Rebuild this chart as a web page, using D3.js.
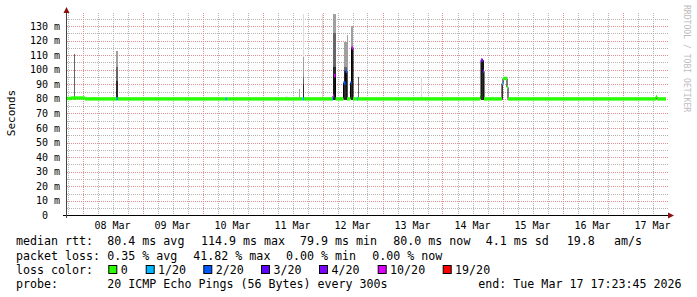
<!DOCTYPE html>
<html lang="en">
<head>
<meta charset="utf-8">
<title>Smokeping latency, 10 days</title>
<script src="https://d3js.org/d3.v7.min.js"></script>
<style>
    body { margin: 0; background: #fff; }
    svg { display: block; }
    text { font-family: "DejaVu Sans Mono", monospace; fill: #000; }
    .minor { stroke: #b4b4b4; stroke-dasharray: 1,1; }
    .major { stroke: #e09090; stroke-dasharray: 1,1; }
</style>
</head>
<body>
<svg width="697" height="297"></svg>
<script>
    var parseTime = d3.utcParse("%Y-%m-%dT%H:%M");

    var graphStart = "2026-03-07T17:24",
        graphEnd = "2026-03-17T17:24";

    var yTicks = [0, 10, 20, 30, 40, 50, 60, 70, 80, 90, 100, 110, 120, 130];
    var labelDays = ["2026-03-08T12:00", "2026-03-09T12:00", "2026-03-10T12:00", "2026-03-11T12:00", "2026-03-12T12:00",
                     "2026-03-13T12:00", "2026-03-14T12:00", "2026-03-15T12:00", "2026-03-16T12:00", "2026-03-17T12:00"];

    // median rtt (ms), step series: each value holds until the next time
    var medTime = ["2026-03-07T17:24", "2026-03-07T19:25", "2026-03-08T01:00",
                   "2026-03-08T13:24", "2026-03-08T14:00",
                   "2026-03-10T09:12", "2026-03-10T09:48",
                   "2026-03-11T16:00", "2026-03-11T16:36",
                   "2026-03-12T03:48", "2026-03-12T04:12", "2026-03-12T04:36", "2026-03-12T05:12",
                   "2026-03-12T08:24", "2026-03-12T09:12", "2026-03-12T09:48",
                   "2026-03-12T11:12", "2026-03-12T11:36", "2026-03-12T12:12",
                   "2026-03-12T13:48", "2026-03-12T14:12",
                   "2026-03-14T15:12", "2026-03-14T15:24", "2026-03-14T16:12", "2026-03-14T16:36",
                   "2026-03-14T23:48", "2026-03-15T00:12", "2026-03-15T01:48", "2026-03-15T02:12",
                   "2026-03-17T13:24", "2026-03-17T13:48"];
    var medValue = [80.3, 80.6, 80.0,
                    80.0, 80.0,
                    80.0, 80.0,
                    80.0, 80.0,
                    80.0, 82.0, 96.0, 80.0,
                    91.0, 99.0, 80.0,
                    91.0, 115.0, 80.0,
                    80.0, 80.0,
                    82.0, 106.5, 99.0, 80.0,
                    90.5, 94.0, 88.0, 80.0,
                    81.5, 80.0];
    // index into lossColors
    var medLoss = [0, 0, 0,
                   1, 0,
                   1, 0,
                   1, 0,
                   1, 5, 5, 0,
                   2, 2, 0,
                   2, 5, 0,
                   1, 0,
                   0, 4, 4, 0,
                   1, 0, 0, 0,
                   0, 0];

    // smoke columns: start, length in minutes, top of each grey band (ms)
    var smokeTime = ["2026-03-07T20:36", "2026-03-08T13:24", "2026-03-11T09:24", "2026-03-11T14:36", "2026-03-11T16:12",
                     "2026-03-11T23:48", "2026-03-12T04:12", "2026-03-12T08:24", "2026-03-12T09:36", "2026-03-12T11:12",
                     "2026-03-12T14:12", "2026-03-13T15:24", "2026-03-14T15:12", "2026-03-14T23:48", "2026-03-17T13:24"];
    var smokeMinutes = [24, 36, 24, 24, 24, 24, 72, 72, 24, 48, 24, 24, 72, 24, 24];
    var smokeFaint = [null, null, 82, null, 138, 138, null, null, null, null, null, 95, null, null, null];
    var smokeLight = [null, 113, null, 87, 109, null, 138, 119, 124, 130, null, null, null, null, 82];
    var smokeMid   = [111, 102, null, null, 95, null, 125, 102, null, null, 95, null, 106.8, 91, null];
    var smokeDark  = [null, 92.5, null, null, 90, null, 102, 99, null, 115, null, null, 106, null, null];

    var lossNames = ["0", "1/20", "2/20", "3/20", "4/20", "10/20", "19/20"];
    var lossColors = ["#26ff00", "#00b8ff", "#0059ff", "#5e00ff", "#7e00ff", "#dd00ff", "#ff0000"];

    var svg = d3.select("svg");

    var x = d3.scaleUtc().domain([parseTime(graphStart), parseTime(graphEnd)]).range([66, 666]),
        y = d3.scaleLinear().domain([0, 139]).range([215.5, 12.9]);

    svg.append("rect").attr("width", 697).attr("height", 297).attr("fill", "#fff");

    // grid
    var grid = svg.append("g").attr("shape-rendering", "crispEdges");
    d3.range(5, 139, 5).forEach(function(v) {
        grid.append("line")
            .attr("class", v % 10 == 0 ? "major" : "minor")
            .attr("x1", 67).attr("x2", 668)
            .attr("y1", Math.round(y(v)) + 0.5).attr("y2", Math.round(y(v)) + 0.5);
    });
    d3.utcHour.every(6).range(x.domain()[0], x.domain()[1]).forEach(function(t) {
        var px = Math.round(x(t)) + 0.5;
        grid.append("line")
            .attr("class", t.getUTCHours() == 0 ? "major" : "minor")
            .attr("x1", px).attr("x2", px)
            .attr("y1", 13).attr("y2", 215);
    });

    // smoke
    var smoke = svg.append("g").attr("shape-rendering", "crispEdges");
    var bands = [[smokeFaint, "#dcdcdc"], [smokeLight, "#a0a0a0"], [smokeMid, "#666"], [smokeDark, "#2a2a2a"]];
    bands.forEach(function(b) {
        smokeTime.forEach(function(s, i) {
            if (b[0][i] == null) return;
            var t0 = parseTime(s), t1 = new Date(t0.getTime() + smokeMinutes[i] * 60000);
            smoke.append("rect")
                .attr("x", x(t0)).attr("width", x(t1) - x(t0))
                .attr("y", y(b[0][i])).attr("height", y(79.5) - y(b[0][i]))
                .attr("fill", b[1]);
        });
    });

    // median
    var med = medTime.map(function(s, i) { return {t: parseTime(s), v: medValue[i], loss: medLoss[i]}; });
    var medPts = med.concat([{t: parseTime(graphEnd), v: medValue[medValue.length - 1]}]);

    var line = d3.line()
        .curve(d3.curveStepAfter)
        .x(function(d) { return x(d.t); })
        .y(function(d) { return y(d.v); });

    svg.append("path")
        .datum(medPts)
        .attr("d", line)
        .attr("fill", "none")
        .attr("stroke", "#000")
        .attr("stroke-width", 1);

    svg.append("g").selectAll("rect")
        .data(med)
        .enter().append("rect")
        .attr("x", function(d) { return x(d.t); })
        .attr("width", function(d, i) { return x(medPts[i + 1].t) - x(d.t); })
        .attr("y", function(d) { return y(d.v) - 1.7; })
        .attr("height", 3.4)
        .attr("fill", function(d) { return lossColors[d.loss]; });

    // axes
    svg.append("line").attr("x1", 63).attr("x2", 669).attr("y1", 215.5).attr("y2", 215.5)
        .attr("stroke", "#000").attr("shape-rendering", "crispEdges");
    svg.append("line").attr("x1", 66.5).attr("x2", 66.5).attr("y1", 218).attr("y2", 12)
        .attr("stroke", "#444").attr("shape-rendering", "crispEdges");
    svg.append("path").attr("d", "M668,212.5L674,215.5L668,218.5Z").attr("fill", "#8b1111");
    svg.append("path").attr("d", "M63.5,13L66.5,7L69.5,13Z").attr("fill", "#8b1111");

    svg.append("g").selectAll("text")
        .data(yTicks)
        .enter().append("text")
        .attr("x", function(d) { return d == 0 ? 48 : 60; })
        .attr("y", function(d) { return y(d) + 3.5; })
        .attr("text-anchor", "end")
        .style("font-size", "10px")
        .text(function(d) { return d == 0 ? "0" : d + " m"; });

    var dayFormat = d3.utcFormat("%d %b");
    svg.append("g").selectAll("text")
        .data(labelDays)
        .enter().append("text")
        .attr("x", function(d) { return x(parseTime(d)); })
        .attr("y", 228.5)
        .attr("text-anchor", "middle")
        .style("font-size", "10px")
        .text(function(d) { return dayFormat(parseTime(d)); });

    svg.append("text")
        .attr("transform", "translate(15,113) rotate(-90)")
        .attr("text-anchor", "middle")
        .style("font-size", "11px")
        .text("Seconds");

    svg.append("text")
        .attr("transform", "translate(684,5) rotate(90)")
        .style("font-size", "8.1px")
        .style("fill", "#bdbdbd")
        .text("RRDTOOL / TOBI OETIKER");

    // legend
    var legendRows = [
        [[16, "median rtt:"], [107.3, "80.4 ms avg"], [201, "114.9 ms max"], [300, "79.9 ms min"],
         [393.3, "80.0 ms now"], [485.7, "4.1 ms sd"], [566.7, "19.8"], [614, "am/s"]],
        [[16, "packet loss:"], [107.3, "0.35 % avg"], [193.3, "41.82 % max"], [286, "0.00 % min"], [372.3, "0.00 % now"]],
        [[16, "loss color:"]],
        [[16, "probe:"], [107.3, "20 ICMP Echo Pings (56 Bytes) every 300s"], [478.3, "end: Tue Mar 17 17:23:45 2026"]]
    ];
    var rowY = [245, 259.5, 273.5, 287.5];
    legendRows.forEach(function(row, r) {
        row.forEach(function(p) {
            svg.append("text").attr("x", p[0]).attr("y", rowY[r])
                .style("font-size", "11.65px").text(p[1]);
        });
    });

    var boxX = [108.3, 145.7, 203.3, 261, 319, 377.7, 442.7];
    lossNames.forEach(function(n, i) {
        svg.append("rect")
            .attr("x", boxX[i] + 0.5).attr("y", 265.5)
            .attr("width", 8).attr("height", 8)
            .attr("fill", lossColors[i]).attr("stroke", "#000");
        svg.append("text").attr("x", boxX[i] + 12.4).attr("y", rowY[2])
            .style("font-size", "11.65px").text(n);
    });
</script>
</body>
</html>
